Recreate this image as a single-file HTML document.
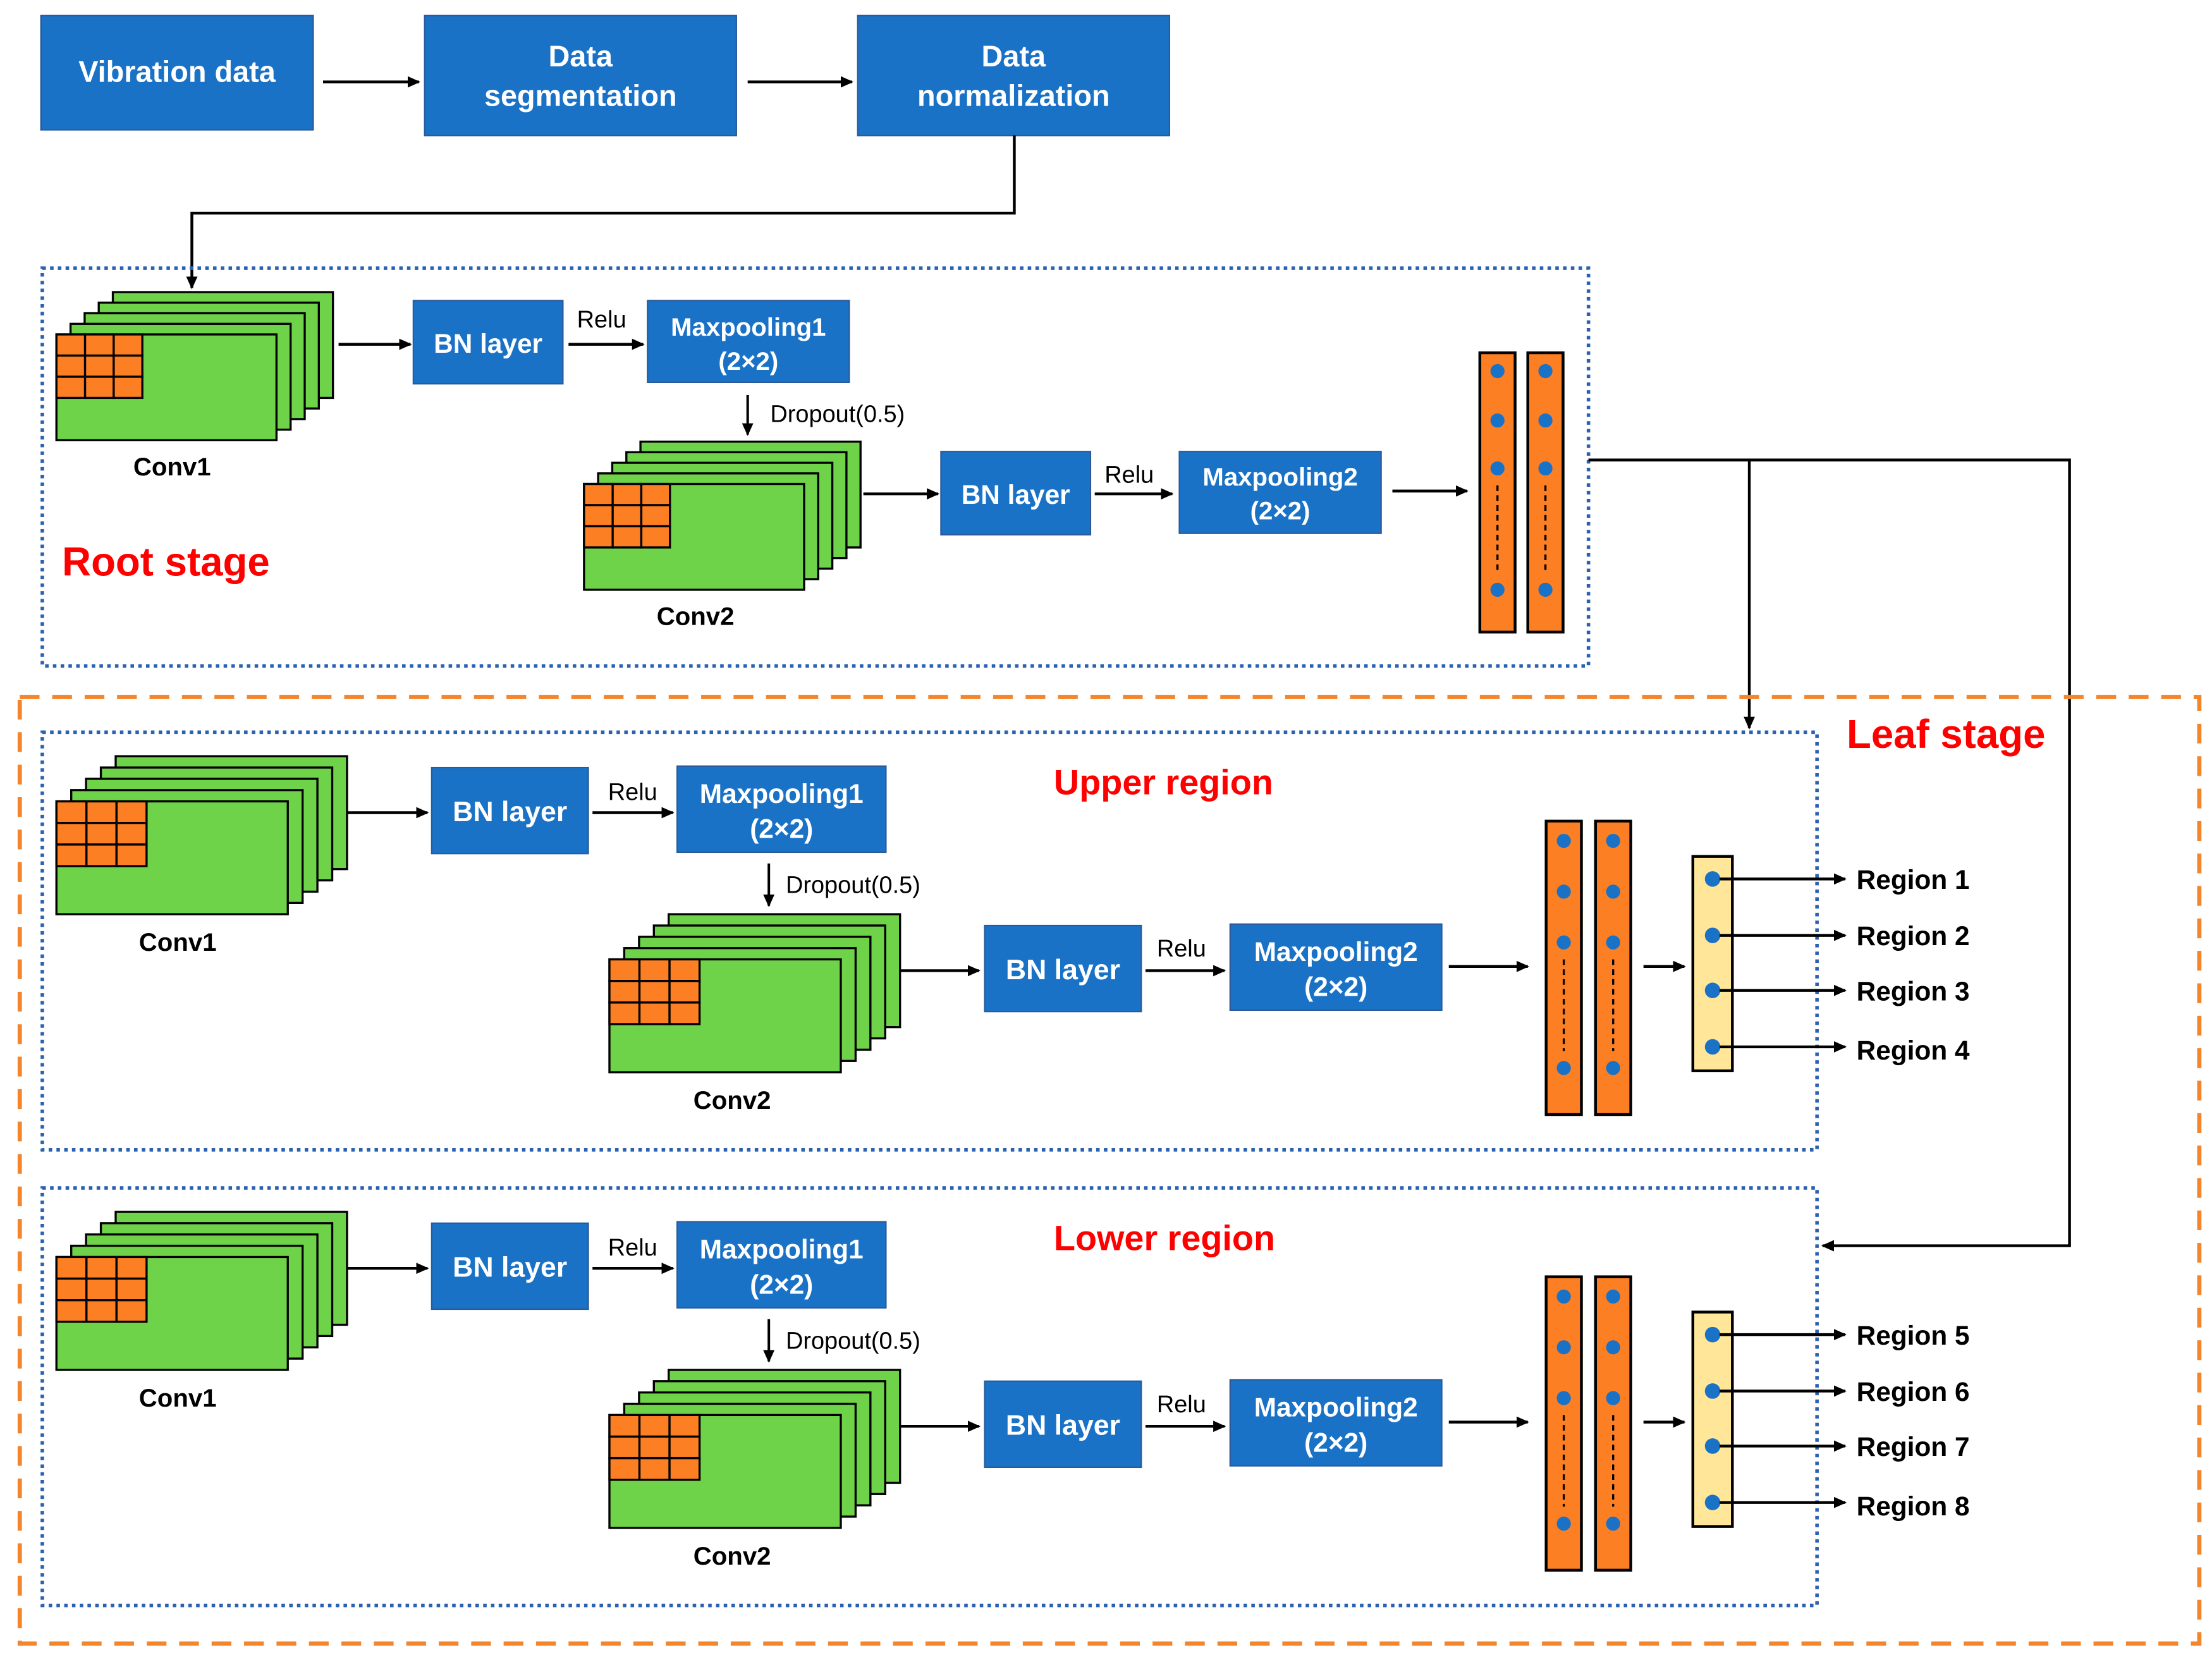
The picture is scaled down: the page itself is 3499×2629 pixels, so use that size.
<!DOCTYPE html>
<html><head><meta charset="utf-8"><style>
html,body{margin:0;padding:0;background:#fff;}
svg{display:block;}
text{font-family:"Liberation Sans",Arial,sans-serif;}
.bt{fill:#fff;font-weight:bold;font-size:20px;text-anchor:middle;}
.lb{fill:#000;font-weight:bold;font-size:18px;text-anchor:middle;}
.rg{fill:#000;font-weight:bold;font-size:19px;}
.sm{fill:#000;font-size:17px;}
.red{fill:#f00;font-weight:bold;}
.box{fill:#1a72c7;stroke:#2a5a9a;stroke-width:1;}
.ln{stroke:#000;stroke-width:2;fill:none;}
.g{fill:#6fd34a;stroke:#000;stroke-width:1.5;}
.o{fill:#fd7f24;stroke:#000;stroke-width:1.5;}
.d{fill:#1a72c7;}
</style></head><body>
<svg width="3499" height="2629" viewBox="0 0 1568 1178" xmlns="http://www.w3.org/2000/svg">
<defs>
<marker id="ah" markerWidth="10" markerHeight="10" refX="8" refY="4" orient="auto" markerUnits="userSpaceOnUse"><path d="M0,0 L9,4 L0,8 z" fill="#000"/></marker>
<g id="stackA">
<rect class="g" x="80" y="207" width="156" height="75"/>
<rect class="g" x="70" y="214.5" width="156" height="75"/>
<rect class="g" x="60" y="222" width="156" height="75"/>
<rect class="g" x="50" y="229.5" width="156" height="75"/>
<rect class="g" x="40" y="237" width="156" height="75"/>
<g class="o">
<rect x="40" y="237" width="20.3" height="15"/><rect x="60.3" y="237" width="20.3" height="15"/><rect x="80.6" y="237" width="20.3" height="15"/>
<rect x="40" y="252" width="20.3" height="15"/><rect x="60.3" y="252" width="20.3" height="15"/><rect x="80.6" y="252" width="20.3" height="15"/>
<rect x="40" y="267" width="20.3" height="15"/><rect x="60.3" y="267" width="20.3" height="15"/><rect x="80.6" y="267" width="20.3" height="15"/>
</g>
</g>
<g id="stackB">
<rect class="g" x="82" y="536" width="164" height="80"/>
<rect class="g" x="71.5" y="544" width="164" height="80"/>
<rect class="g" x="61" y="552" width="164" height="80"/>
<rect class="g" x="50.5" y="560" width="164" height="80"/>
<rect class="g" x="40" y="568" width="164" height="80"/>
<g class="o">
<rect x="40" y="568" width="21.3" height="15.3"/><rect x="61.3" y="568" width="21.3" height="15.3"/><rect x="82.6" y="568" width="21.3" height="15.3"/>
<rect x="40" y="583.3" width="21.3" height="15.3"/><rect x="61.3" y="583.3" width="21.3" height="15.3"/><rect x="82.6" y="583.3" width="21.3" height="15.3"/>
<rect x="40" y="598.6" width="21.3" height="15.3"/><rect x="61.3" y="598.6" width="21.3" height="15.3"/><rect x="82.6" y="598.6" width="21.3" height="15.3"/>
</g>
</g>
<g id="colA">
<rect class="o" x="0" y="0" width="25" height="198" style="stroke-width:2"/>
<circle class="d" cx="12.5" cy="13" r="5"/><circle class="d" cx="12.5" cy="48" r="5"/><circle class="d" cx="12.5" cy="82" r="5"/><circle class="d" cx="12.5" cy="168" r="5"/>
<line x1="12.5" y1="94" x2="12.5" y2="156" stroke="#000" stroke-width="1.5" stroke-dasharray="4,3"/>
</g>
<g id="colB">
<rect class="o" x="0" y="0" width="25" height="208" style="stroke-width:2"/>
<circle class="d" cx="12.5" cy="14" r="5"/><circle class="d" cx="12.5" cy="50" r="5"/><circle class="d" cx="12.5" cy="86" r="5"/><circle class="d" cx="12.5" cy="175" r="5"/>
<line x1="12.5" y1="98" x2="12.5" y2="163" stroke="#000" stroke-width="1.5" stroke-dasharray="4,3"/>
</g>
</defs>

<rect class="box" x="29" y="11" width="193" height="81"/>
<text class="bt" x="125.5" y="58" style="font-size:21px">Vibration data</text>
<rect class="box" x="301" y="11" width="221" height="85"/>
<text class="bt" x="411.5" y="47" style="font-size:21px">Data</text><text class="bt" x="411.5" y="75" style="font-size:21px">segmentation</text>
<rect class="box" x="608" y="11" width="221" height="85"/>
<text class="bt" x="718.5" y="47" style="font-size:21px">Data</text><text class="bt" x="718.5" y="75" style="font-size:21px">normalization</text>
<line class="ln" x1="229" y1="58" x2="297" y2="58" marker-end="url(#ah)"/>
<line class="ln" x1="530" y1="58" x2="604" y2="58" marker-end="url(#ah)"/>
<polyline class="ln" points="719,96 719,151 136,151 136,204" marker-end="url(#ah)"/>

<rect x="30" y="190" width="1096" height="282" fill="none" stroke="#2a62b0" stroke-width="2.5" stroke-dasharray="2.5,3"/>
<use href="#stackA"/>
<text class="lb" x="122" y="337">Conv1</text>
<line class="ln" x1="240" y1="244" x2="291" y2="244" marker-end="url(#ah)"/>
<rect class="box" x="293" y="213" width="106" height="59"/><text class="bt" x="346" y="250" style="font-size:19px">BN layer</text>
<text class="sm" x="409" y="232">Relu</text>
<line class="ln" x1="403" y1="244" x2="456" y2="244" marker-end="url(#ah)"/>
<rect class="box" x="459" y="213" width="143" height="58"/>
<text class="bt" x="530.5" y="238" style="font-size:18px">Maxpooling1</text><text class="bt" x="530.5" y="262" style="font-size:18px">(2×2)</text>
<line class="ln" x1="530" y1="280" x2="530" y2="308" marker-end="url(#ah)" style="stroke-width:1.8"/>
<text class="sm" x="546" y="299">Dropout(0.5)</text>
<use href="#stackA" transform="translate(374,106)"/>
<text class="lb" x="493" y="443">Conv2</text>
<line class="ln" x1="612" y1="350" x2="665" y2="350" marker-end="url(#ah)"/>
<rect class="box" x="667" y="320" width="106" height="59"/><text class="bt" x="720" y="357" style="font-size:19px">BN layer</text>
<text class="sm" x="783" y="342">Relu</text>
<line class="ln" x1="776" y1="350" x2="831" y2="350" marker-end="url(#ah)"/>
<rect class="box" x="836" y="320" width="143" height="58"/>
<text class="bt" x="907.5" y="344" style="font-size:18px">Maxpooling2</text><text class="bt" x="907.5" y="368" style="font-size:18px">(2×2)</text>
<line class="ln" x1="987" y1="348" x2="1040" y2="348" marker-end="url(#ah)"/>
<use href="#colA" transform="translate(1049,250)"/>
<use href="#colA" transform="translate(1083,250)"/>
<text class="red" x="44" y="408" style="font-size:28.5px">Root stage</text>

<polyline class="ln" points="1126,326 1467,326 1467,883 1292,883" marker-end="url(#ah)"/>
<polyline class="ln" points="1240,326 1240,516" marker-end="url(#ah)"/>

<rect x="14" y="494" width="1545" height="671" fill="none" stroke="#f5852a" stroke-width="3" stroke-dasharray="14,9"/>
<text class="red" x="1309" y="530" style="font-size:28.5px">Leaf stage</text>

<g id="regU">
<rect x="30" y="519" width="1258" height="296" fill="none" stroke="#2a62b0" stroke-width="2.5" stroke-dasharray="2.5,3"/>
<use href="#stackB"/>
<text class="lb" x="126" y="674">Conv1</text>
<line class="ln" x1="246" y1="576" x2="303" y2="576" marker-end="url(#ah)"/>
<rect class="box" x="306" y="544" width="111" height="61"/><text class="bt" x="361.5" y="582">BN layer</text>
<text class="sm" x="431" y="567">Relu</text>
<line class="ln" x1="420" y1="576" x2="477" y2="576" marker-end="url(#ah)"/>
<rect class="box" x="480" y="543" width="148" height="61"/>
<text class="bt" x="554" y="569" style="font-size:19px">Maxpooling1</text><text class="bt" x="554" y="594" style="font-size:19px">(2×2)</text>
<line class="ln" x1="545" y1="612" x2="545" y2="642" marker-end="url(#ah)" style="stroke-width:1.8"/>
<text class="sm" x="557" y="633">Dropout(0.5)</text>
<use href="#stackB" transform="translate(392,112)"/>
<text class="lb" x="519" y="786">Conv2</text>
<line class="ln" x1="638" y1="688" x2="694" y2="688" marker-end="url(#ah)"/>
<rect class="box" x="698" y="656" width="111" height="61"/><text class="bt" x="753.5" y="694">BN layer</text>
<text class="sm" x="820" y="678">Relu</text>
<line class="ln" x1="812" y1="688" x2="868" y2="688" marker-end="url(#ah)"/>
<rect class="box" x="872" y="655" width="150" height="61"/>
<text class="bt" x="947" y="681" style="font-size:19px">Maxpooling2</text><text class="bt" x="947" y="706" style="font-size:19px">(2×2)</text>
<line class="ln" x1="1027" y1="685" x2="1083" y2="685" marker-end="url(#ah)"/>
<use href="#colB" transform="translate(1096,582)"/>
<use href="#colB" transform="translate(1131,582)"/>
<line class="ln" x1="1165" y1="685" x2="1194" y2="685" marker-end="url(#ah)"/>
<rect x="1200" y="607" width="28" height="152" fill="#ffe699" stroke="#000" stroke-width="2"/>
<circle class="d" cx="1214" cy="623" r="5.5"/><circle class="d" cx="1214" cy="663" r="5.5"/><circle class="d" cx="1214" cy="702" r="5.5"/><circle class="d" cx="1214" cy="742" r="5.5"/>
<line class="ln" x1="1219" y1="623" x2="1308" y2="623" marker-end="url(#ah)"/>
<line class="ln" x1="1219" y1="663" x2="1308" y2="663" marker-end="url(#ah)"/>
<line class="ln" x1="1219" y1="702" x2="1308" y2="702" marker-end="url(#ah)"/>
<line class="ln" x1="1219" y1="742" x2="1308" y2="742" marker-end="url(#ah)"/>
</g>
<text class="red" x="747" y="563" style="font-size:25px">Upper region</text>
<text class="rg" x="1316" y="630">Region 1</text>
<text class="rg" x="1316" y="670">Region 2</text>
<text class="rg" x="1316" y="709">Region 3</text>
<text class="rg" x="1316" y="751">Region 4</text>

<use href="#regU" transform="translate(0,323)"/>
<text class="red" x="747" y="886" style="font-size:25px">Lower region</text>
<text class="rg" x="1316" y="953">Region 5</text>
<text class="rg" x="1316" y="993">Region 6</text>
<text class="rg" x="1316" y="1032">Region 7</text>
<text class="rg" x="1316" y="1074">Region 8</text>
</svg>
</body></html>
